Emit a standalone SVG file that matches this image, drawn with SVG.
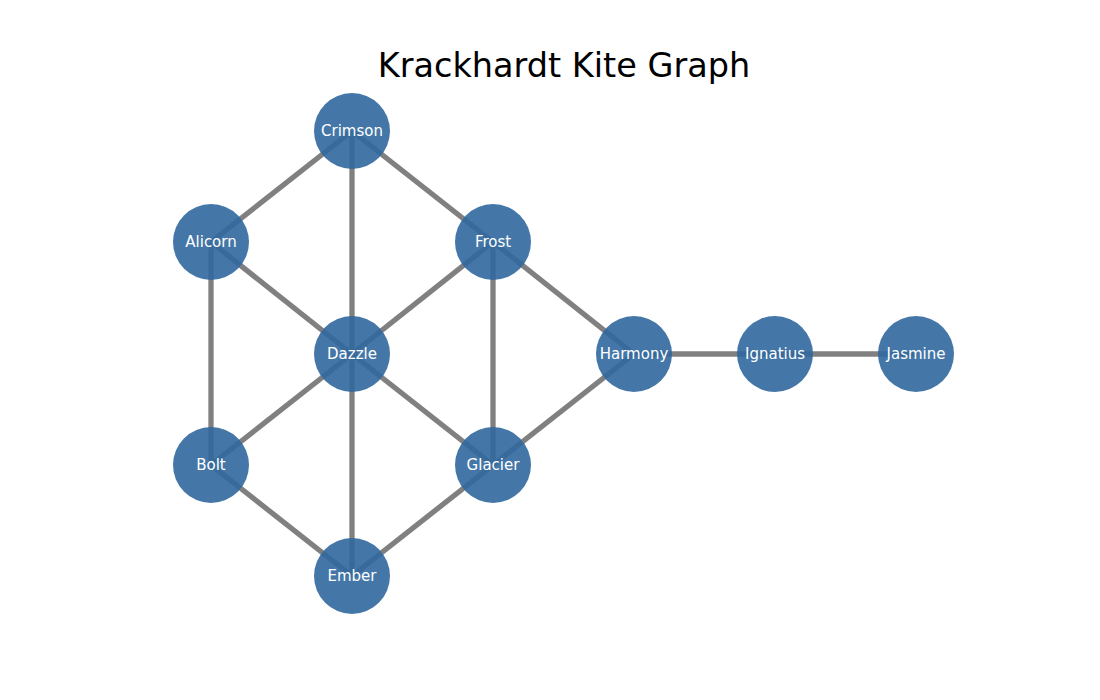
<svg xmlns="http://www.w3.org/2000/svg" width="1100" height="700" viewBox="0 0 1100 700">
<style>
.e{stroke:#808080;stroke-width:5.3;stroke-linecap:butt}
.n circle{fill:#30689e;fill-opacity:0.9}
.n text{font-family:"DejaVu Sans",sans-serif;font-size:15px;fill:#ffffff;text-anchor:middle;dominant-baseline:central}
.t{font-family:"DejaVu Sans",sans-serif;font-size:33.5px;fill:#000;text-anchor:middle}
</style>
<rect width="1100" height="700" fill="#ffffff"/>
<text class="t" x="564" y="77">Krackhardt Kite Graph</text>
<g id="edges">
<line class="e" x1="352" y1="131" x2="211" y2="242"/>
<line class="e" x1="352" y1="131" x2="493" y2="242"/>
<line class="e" x1="352" y1="131" x2="352" y2="354"/>
<line class="e" x1="211" y1="242" x2="352" y2="354"/>
<line class="e" x1="211" y1="242" x2="211" y2="465"/>
<line class="e" x1="493" y1="242" x2="352" y2="354"/>
<line class="e" x1="493" y1="242" x2="493" y2="465"/>
<line class="e" x1="493" y1="242" x2="634" y2="354"/>
<line class="e" x1="352" y1="354" x2="211" y2="465"/>
<line class="e" x1="352" y1="354" x2="493" y2="465"/>
<line class="e" x1="352" y1="354" x2="352" y2="576"/>
<line class="e" x1="211" y1="465" x2="352" y2="576"/>
<line class="e" x1="493" y1="465" x2="352" y2="576"/>
<line class="e" x1="493" y1="465" x2="634" y2="354"/>
<line class="e" x1="634" y1="354" x2="775" y2="354"/>
<line class="e" x1="775" y1="354" x2="916" y2="354"/>
</g>
<g id="crimson" class="n"><circle cx="352" cy="131" r="38"/><text x="352" y="131">Crimson</text></g>
<g id="alicorn" class="n"><circle cx="211" cy="242" r="38"/><text x="211" y="242">Alicorn</text></g>
<g id="frost" class="n"><circle cx="493" cy="242" r="38"/><text x="493" y="242">Frost</text></g>
<g id="dazzle" class="n"><circle cx="352" cy="354" r="38"/><text x="352" y="354">Dazzle</text></g>
<g id="harmony" class="n"><circle cx="634" cy="354" r="38"/><text x="634" y="354">Harmony</text></g>
<g id="ignatius" class="n"><circle cx="775" cy="354" r="38"/><text x="775" y="354">Ignatius</text></g>
<g id="jasmine" class="n"><circle cx="916" cy="354" r="38"/><text x="916" y="354">Jasmine</text></g>
<g id="bolt" class="n"><circle cx="211" cy="465" r="38"/><text x="211" y="465">Bolt</text></g>
<g id="glacier" class="n"><circle cx="493" cy="465" r="38"/><text x="493" y="465">Glacier</text></g>
<g id="ember" class="n"><circle cx="352" cy="576" r="38"/><text x="352" y="576">Ember</text></g>
</svg>
